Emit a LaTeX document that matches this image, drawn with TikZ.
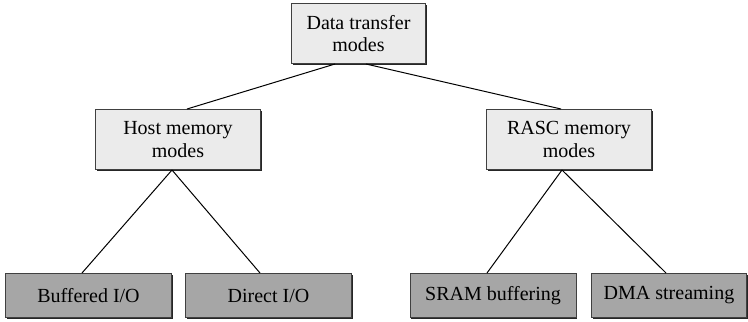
\documentclass[tikz,border=0pt]{standalone}
\usepackage{fontspec}
\setmainfont{Liberation Serif}
\usetikzlibrary{shadows}
\tikzset{
  modebox/.style={draw=black!75, line width=0.5pt, align=center, inner sep=0pt,
    font=\fontsize{10}{11.4}\selectfont,
    drop shadow={shadow xshift=0.6pt, shadow yshift=-0.6pt, opacity=1, fill=black!85}},
  upperbox/.style={modebox, fill=black!8, minimum width=#1, minimum height=30pt},
  lowerbox/.style={modebox, fill=black!35, minimum width=#1, minimum height=22pt},
  link/.style={line width=0.5pt}
}
\begin{document}
\begin{tikzpicture}[x=0.5pt,y=-0.5pt]
\useasboundingbox (0,0) rectangle (748,321);
% top level
\node[upperbox=67pt] (dtm) at (358.5,33.5) {Data transfer\\modes};
% memory modes
\node[upperbox=82.5pt] (hmm) at (178,139.5) {Host memory\\modes};
\node[upperbox=82.5pt] (rmm) at (569,139.5) {RASC memory\\modes};
% transfer kinds
\node[lowerbox=83pt] (bio) at (88.5,295.5) {Buffered I/O};
\node[lowerbox=83pt] (dio) at (268.5,295.5) {Direct I/O};
\node[lowerbox=83pt] (srb) at (493,295.5) {SRAM buffering};
\node[lowerbox=77.5pt] (dma) at (669,295.5) {DMA streaming};
\draw[link] ([xshift=-11.75pt]dtm.south) -- ([xshift=4.5pt]hmm.north);
\draw[link] ([xshift=3.75pt]dtm.south) -- ([xshift=-4pt]rmm.north);
\draw[link] ([xshift=-3pt]hmm.south) -- ([xshift=-3.25pt]bio.north);
\draw[link] ([xshift=-3pt]hmm.south) -- ([xshift=-4.25pt]dio.north);
\draw[link] ([xshift=-3.5pt]rmm.south) -- ([xshift=-3pt]srb.north);
\draw[link] ([xshift=-3.5pt]rmm.south) -- ([xshift=-1.5pt]dma.north);
\end{tikzpicture}
\end{document}
